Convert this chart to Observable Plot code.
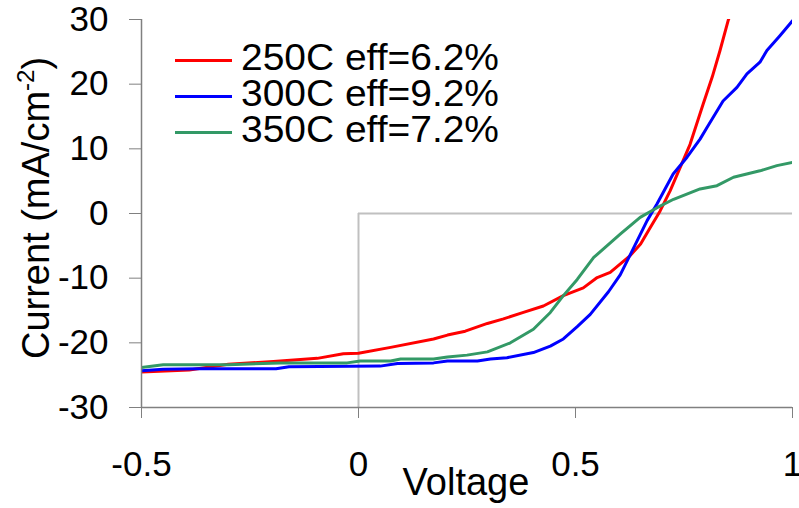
<!DOCTYPE html>
<html>
<head>
<meta charset="utf-8">
<script src="https://cdn.jsdelivr.net/npm/d3@7"></script>
<script src="https://cdn.jsdelivr.net/npm/@observablehq/plot@0.6"></script>
<style>
  html, body { margin: 0; padding: 0; background: white; overflow: hidden; }
  #chart { position: relative; width: 799px; height: 508px; }
</style>
</head>
<body>
<div id="chart"></div>
<script>
// Series names and legend labels
const seriesNames = ["250C", "300C", "350C"];
const legendLabels = ["250C eff=6.2%", "300C eff=9.2%", "350C eff=7.2%"];
const seriesColors = ["#ff0000", "#0000ff", "#339966"];

// 250C
const voltage250 = [-0.5,-0.39,-0.30,-0.196,-0.095,-0.035,0,0.074,0.173,0.205,0.246,0.297,0.334,0.38,0.426,0.472,0.518,0.55,0.58,0.626,0.65,0.672,0.695,0.718,0.741,0.764,0.794,0.815,0.833,0.852,0.87];
const current250 = [-24.5,-24.2,-23.3,-22.9,-22.4,-21.7,-21.6,-20.7,-19.4,-18.8,-18.2,-17.0,-16.3,-15.3,-14.3,-12.7,-11.5,-9.9,-9.1,-6.5,-4.7,-2.2,0.4,3.5,7.1,10.7,16.9,21.1,25.2,29.9,33];
// 300C
const voltage300 = [-0.5,-0.45,-0.37,-0.19,-0.16,0.05,0.09,0.173,0.205,0.274,0.304,0.342,0.403,0.442,0.472,0.504,0.534,0.576,0.603,0.626,0.665,0.688,0.725,0.757,0.787,0.803,0.840,0.872,0.895,0.925,0.941,0.971,1.0];
const current300 = [-24.3,-24.1,-24.0,-24.0,-23.7,-23.6,-23.2,-23.1,-22.8,-22.8,-22.5,-22.3,-21.5,-20.5,-19.4,-17.5,-15.6,-12.1,-9.5,-6.4,-1.1,1.5,6.1,8.7,11.5,13.3,17.4,19.5,21.6,23.4,25.2,27.5,29.8];
// 350C
const voltage350 = [-0.5,-0.45,-0.3,-0.18,-0.026,0.004,0.074,0.097,0.173,0.205,0.25,0.297,0.35,0.403,0.442,0.472,0.504,0.542,0.603,0.649,0.688,0.726,0.787,0.826,0.864,0.925,0.964,1.0];
const current350 = [-23.8,-23.4,-23.4,-23.1,-23.1,-22.8,-22.8,-22.5,-22.5,-22.2,-21.9,-21.4,-20.0,-17.9,-15.3,-12.7,-10.2,-6.8,-3.2,-0.6,0.9,2.2,3.8,4.3,5.6,6.6,7.4,7.9];

const xTicks = [-0.5, 0, 0.5, 1];
const yTicks = [-30, -20, -10, 0, 10, 20, 30];

const rows = [];
[[voltage250, current250], [voltage300, current300], [voltage350, current350]].forEach(([vs, is], k) => {
  vs.forEach((v, j) => rows.push({series: seriesNames[k], v, i: is[j]}));
});

const font = "'Liberation Sans', Arial, Helvetica, sans-serif";

const plot = Plot.plot({
  width: 799,
  height: 508,
  marginLeft: 141,
  marginRight: 7,
  marginTop: 19,
  marginBottom: 101,
  style: {fontFamily: font, fontSize: "35px", color: "black", background: "white", overflow: "visible"},
  x: {domain: [-0.5, 1], ticks: xTicks, label: null},
  y: {domain: [-30, 30], ticks: yTicks, label: null},
  color: {domain: seriesNames, range: seriesColors},
  marks: [
    Plot.ruleX([0], {y1: -30, y2: 0, stroke: "#c0c0c0", strokeWidth: 2}),
    Plot.ruleY([0], {x1: 0, x2: 1, stroke: "#c0c0c0", strokeWidth: 2}),
    Plot.line(rows, {x: "v", y: "i", z: "series", stroke: "series", strokeWidth: 3, clip: true, strokeLinejoin: "round"}),
    Plot.axisX({ticks: xTicks, tickSize: 11, tickPadding: 33, stroke: "#808080", fill: "black", tickFormat: d => String(d), fontSize: 35}),
    Plot.axisY({ticks: yTicks, tickSize: 12, tickPadding: 21, stroke: "#808080", fill: "black", tickFormat: d => String(d), fontSize: 35}),
    Plot.ruleX([-0.5], {stroke: "#808080", strokeWidth: 1.5}),
    Plot.ruleY([-30], {stroke: "#808080", strokeWidth: 1.5})
  ]
});

const svg = d3.select(plot);

// Axis titles
svg.append("text")
  .attr("x", 466).attr("y", 495)
  .attr("text-anchor", "middle")
  .attr("font-family", font).attr("font-size", 38).attr("fill", "black")
  .text("Voltage");

const yl = svg.append("text")
  .attr("transform", "translate(49,208) rotate(-90)")
  .attr("text-anchor", "middle")
  .attr("font-family", font).attr("font-size", 38).attr("fill", "black");
yl.append("tspan").text("Current (mA/cm");
yl.append("tspan").attr("font-size", 24).attr("dy", -15).text("-2");
yl.append("tspan").attr("dy", 15).text(")");

// Legend
const leg = svg.append("g");
legendLabels.forEach((lab, k) => {
  const yb = 70 + 36 * k;
  leg.append("line")
    .attr("x1", 175).attr("x2", 232).attr("y1", yb - 9.5).attr("y2", yb - 9.5)
    .attr("stroke", seriesColors[k]).attr("stroke-width", 3);
  leg.append("text")
    .attr("x", 241).attr("y", yb)
    .attr("text-anchor", "start")
    .attr("font-family", font).attr("font-size", 37).attr("fill", "black")
    .attr("textLength", 258).attr("lengthAdjust", "spacingAndGlyphs")
    .text(lab);
});

document.getElementById("chart").appendChild(plot);
</script>
</body>
</html>
